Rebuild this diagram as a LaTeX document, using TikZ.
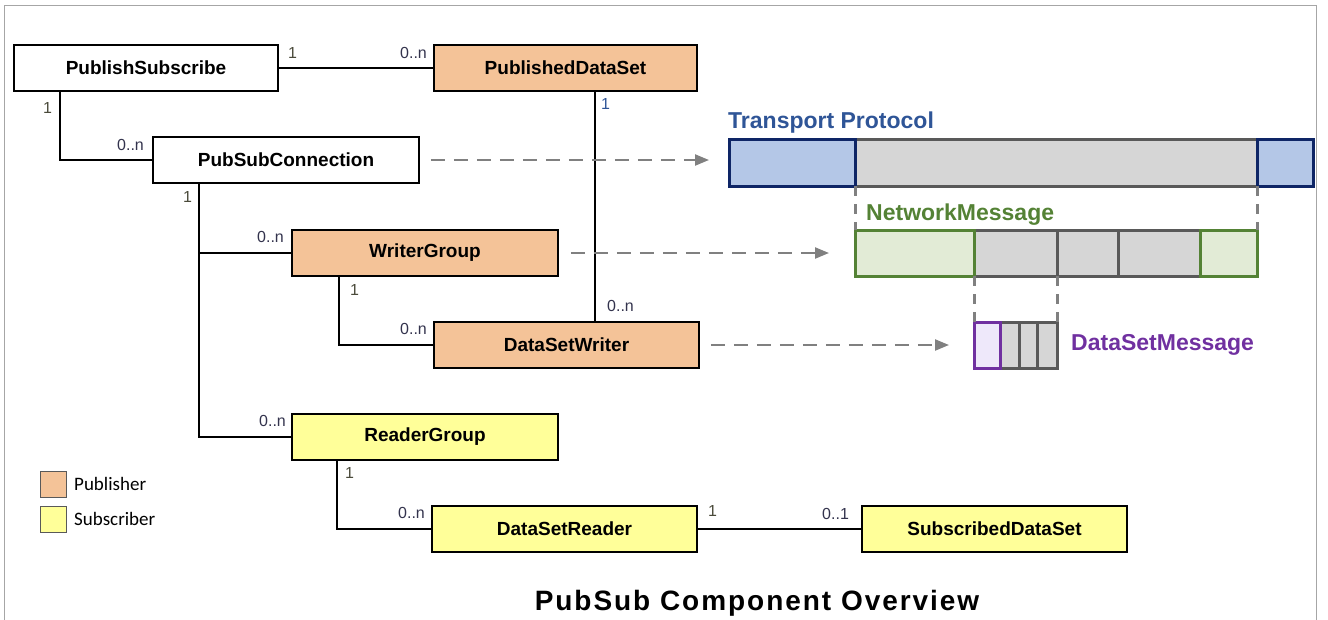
\documentclass[tikz,border=0pt]{standalone}
\usepackage{fontspec}
\setmainfont{Liberation Sans}
\newfontfamily\legfont{Carlito}
\newfontfamily\titlefont[LetterSpace=7]{Liberation Sans}
\usetikzlibrary{arrows.meta}
\definecolor{pubfill}{HTML}{F4C398}
\definecolor{subfill}{HTML}{FFFF99}
\definecolor{tpfill}{HTML}{B4C7E7}
\definecolor{tpdraw}{HTML}{0E2566}
\definecolor{tptext}{HTML}{2F5597}
\definecolor{gyfill}{HTML}{D6D6D6}
\definecolor{gydraw}{HTML}{595959}
\definecolor{nmfill}{HTML}{E2EBD6}
\definecolor{nmdraw}{HTML}{548235}
\definecolor{dmfill}{HTML}{EEE8FA}
\definecolor{dmdraw}{HTML}{7030A0}
\definecolor{onecol}{HTML}{4A4A3A}
\definecolor{nncol}{HTML}{33334D}
\definecolor{dashcol}{HTML}{808080}
\tikzset{
  box/.style={draw=black, line width=1.6pt, minimum height=46pt, inner sep=0pt,
    font=\fontsize{19}{22}\selectfont\bfseries},
  pubbox/.style={box, fill=pubfill},
  subbox/.style={box, fill=subfill},
  plainbox/.style={box, fill=white},
  conn/.style={line width=1.6pt, black},
  mult/.style={font=\fontsize{16}{18}\selectfont, inner sep=0pt, anchor=base west},
  flow/.style={draw=dashcol, line width=2.2pt, dash pattern=on 14pt off 9pt,
    -{Triangle[length=14pt,width=11pt]}},
  seg/.style={inner sep=0pt, outer sep=0pt, anchor=north west},
  guide/.style={draw=dashcol, line width=3pt, dash pattern=on 10pt off 8pt},
  bartitle/.style={font=\fontsize{23}{27}\selectfont\bfseries, inner sep=0pt, anchor=base west},
}
\begin{document}
\begin{tikzpicture}[x=1pt,y=-1pt]
\useasboundingbox (0,0) rectangle (1328,619);
\draw[gray!70, line width=1pt] (4,640) -- (4,5) -- (1316,5) -- (1316,640);

% boxes
\node[plainbox, minimum width=264pt] (ps)  at (146,68)   {PublishSubscribe};
\node[pubbox,   minimum width=263pt] (pds) at (565.5,68) {PublishedDataSet};
\node[plainbox, minimum width=266pt] (psc) at (286,160)  {PubSubConnection};
\node[pubbox,   minimum width=266pt] (wg)  at (425,253)  {WriterGroup};
\node[pubbox,   minimum width=265pt] (dsw) at (566.5,345) {DataSetWriter};
\node[subbox,   minimum width=266pt] (rg)  at (425,437)  {ReaderGroup};
\node[subbox,   minimum width=265pt] (dsr) at (564.5,529) {DataSetReader};
\node[subbox,   minimum width=265pt] (sds) at (994.5,529) {SubscribedDataSet};

% connectors
\draw[conn] (ps.east) -- (pds.west);
\draw[conn] ([xshift=47pt]ps.south west) |- (psc.west);
\draw[conn] ([xshift=162pt]pds.south west) -- ([xshift=162pt]pds.south west |- dsw.north);
\draw[conn] ([xshift=47pt]psc.south west) |- (rg.west);
\draw[conn] ([xshift=47pt]psc.south west |- wg.west) -- (wg.west);
\draw[conn] ([xshift=48pt]wg.south west) |- (dsw.west);
\draw[conn] ([xshift=46pt]rg.south west) |- (dsr.west);
\draw[conn] (dsr.east) -- (sds.west);

% multiplicities
\node[mult, text=onecol] (m1) at (288,58) {1};
\node[mult, text=nncol]  (m2) at (400,58) {0..n};
\node[mult, text=onecol] (m3) at (43,113) {1};
\node[mult, text=nncol]  (m4) at (117,150) {0..n};
\node[mult, text=tptext] (m5) at (601,109) {1};
\node[mult, text=nncol]  (m6) at (607,311) {0..n};
\node[mult, text=onecol] (m7) at (183,202) {1};
\node[mult, text=nncol]  (m8) at (257,242) {0..n};
\node[mult, text=onecol] (m9) at (350,295) {1};
\node[mult, text=nncol]  (m10) at (400,334) {0..n};
\node[mult, text=nncol]  (m11) at (259,426) {0..n};
\node[mult, text=onecol] (m12) at (345,478) {1};
\node[mult, text=nncol]  (m13) at (398,518) {0..n};
\node[mult, text=onecol] (m14) at (708,516) {1};
\node[mult, text=nncol]  (m15) at (822,519) {0..1};

% Transport protocol bar
\node[seg, line width=3pt, fill=gyfill, draw=gydraw, minimum width=402pt, minimum height=47pt] (tpb) at (855,139) {};
\node[seg, line width=3pt, fill=tpfill, draw=tpdraw, minimum width=126pt, minimum height=47pt] (tpa) at (729,139) {};
\node[seg, line width=3pt, fill=tpfill, draw=tpdraw, minimum width=56pt, minimum height=47pt] (tpc) at (1257,139) {};
\node[bartitle, text=tptext] (tpt) at (728,128) {Transport Protocol};

% NetworkMessage bar
\node[seg, line width=3pt, fill=gyfill, draw=gydraw, minimum width=83pt, minimum height=46pt] (nmb) at (974,230) {};
\node[seg, line width=3pt, fill=gyfill, draw=gydraw, minimum width=61pt, minimum height=46pt] (nmc) at (1057,230) {};
\node[seg, line width=3pt, fill=gyfill, draw=gydraw, minimum width=82pt, minimum height=46pt] (nmd) at (1118,230) {};
\node[seg, line width=3pt, fill=nmfill, draw=nmdraw, minimum width=119pt, minimum height=46pt] (nma) at (855,230) {};
\node[seg, line width=3pt, fill=nmfill, draw=nmdraw, minimum width=57pt, minimum height=46pt] (nme) at (1200,230) {};
\node[bartitle, text=nmdraw] (nmt) at (866,220) {NetworkMessage};

% DataSetMessage bar
\node[seg, line width=3pt, fill=gyfill, draw=gydraw, minimum width=19pt, minimum height=46pt] (dmb) at (1000,322) {};
\node[seg, line width=3pt, fill=gyfill, draw=gydraw, minimum width=18pt, minimum height=46pt] (dmc) at (1019,322) {};
\node[seg, line width=3pt, fill=gyfill, draw=gydraw, minimum width=20pt, minimum height=46pt] (dmd) at (1037,322) {};
\node[seg, line width=3pt, fill=dmfill, draw=dmdraw, minimum width=26pt, minimum height=46pt] (dma) at (974,322) {};
\node[bartitle, text=dmdraw] (dmt) at (1071,350) {DataSetMessage};

% guides
\draw[guide] (tpa.south east) -- (nma.north west);
\draw[guide] (tpc.south west) -- (nme.north east);
\draw[guide] (nma.south east) -- (dma.north west);
\draw[guide] (nmc.south west) -- (dmd.north east);

% flows
\draw[flow] ([xshift=11pt]psc.east) -- ([xshift=-20pt]tpa.west |- psc.east);
\draw[flow] ([xshift=12pt]wg.east) -- ([xshift=-26pt]nma.west |- wg.east);
\draw[flow] ([xshift=11pt]dsw.east) -- ([xshift=-25pt]dma.west |- dsw.east);

% legend
\node[draw=gydraw, line width=1pt, fill=pubfill, minimum size=26pt, inner sep=0pt] (lp) at (53,484) {};
\node[draw=gydraw, line width=1pt, fill=subfill, minimum size=26pt, inner sep=0pt] (ls) at (53,519) {};
\node[font=\legfont\fontsize{19}{22}\selectfont, anchor=west, inner sep=0pt] (lpt) at (74,484) {Publisher};
\node[font=\legfont\fontsize{19}{22}\selectfont, anchor=west, inner sep=0pt] (lst) at (74,519) {Subscriber};

% title
\node[font=\titlefont\fontsize{28}{33}\selectfont\bfseries, inner sep=0pt] (title) at (757,603) {PubSub Component Overview};
\end{tikzpicture}
\end{document}
